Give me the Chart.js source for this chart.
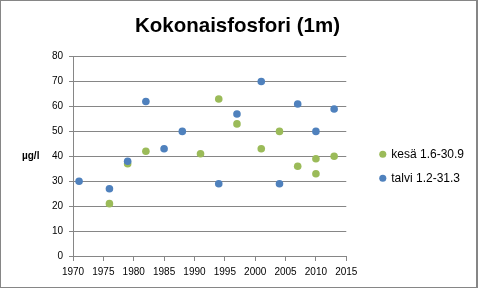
<!DOCTYPE html>
<html>
<head>
<meta charset="utf-8">
<script src="https://cdn.jsdelivr.net/npm/chart.js@4"></script>
<style>
    body { margin: 0; background: #fff; }
    #frame {
        position: absolute; left: 0; top: 0;
        width: 478px; height: 288px;
        box-sizing: border-box;
        border: 1px solid #868686;
        border-right-width: 2px;
        background: #fff;
    }
    #chart-box { position: relative; width: 475px; height: 286px; }
</style>
</head>
<body>
<div id="frame"><div id="chart-box"><canvas id="fosfori"></canvas></div></div>
<script>
// Data
const kesaLabel = 'kesä 1.6-30.9'
const kesaYears = [1976, 1979, 1982, 1991, 1994, 1997, 2001, 2004, 2007, 2010, 2010, 2013]
const kesaValues = [21, 37, 42, 41, 63, 53, 43, 50, 36, 39, 33, 40]

const talviLabel = 'talvi 1.2-31.3'
const talviYears = [1971, 1976, 1979, 1982, 1985, 1988, 1994, 1997, 2001, 2004, 2007, 2010, 2013]
const talviValues = [30, 27, 38, 62, 43, 50, 29, 57, 70, 29, 61, 50, 59]

const yearTicks = [1970, 1975, 1980, 1985, 1990, 1995, 2000, 2005, 2010, 2015]
const valueTicks = [0, 10, 20, 30, 40, 50, 60, 70, 80]

const titleText = 'Kokonaisfosfori (1m)'
const unitText = 'µg/l'

const toPoints = (xs, ys) => xs.map((x, i) => ({x: x, y: ys[i]}))

const gridColor = '#868686'
const tickFont = {family: "'Liberation Sans Narrow', 'Liberation Sans', Arial, sans-serif", size: 10}

// unit label written beside the 40 tick, not rotated
const unitLabel = {
    id: 'unitLabel',
    afterDraw(chart) {
        const ctx = chart.ctx
        const y = chart.scales.y.getPixelForValue(40)
        ctx.save()
        ctx.font = "bold 10px 'Liberation Sans', Arial, sans-serif"
        ctx.fillStyle = '#000'
        ctx.textAlign = 'left'
        ctx.textBaseline = 'middle'
        ctx.fillText(unitText, 21, y)
        ctx.restore()
    }
}

new Chart(document.getElementById('fosfori'), {
    type: 'scatter',
    data: {
        datasets: [{
            label: kesaLabel,
            data: toPoints(kesaYears, kesaValues),
            backgroundColor: '#9BBB59',
            borderColor: '#9BBB59',
            borderWidth: 0,
            pointRadius: 3.8,
            pointHoverRadius: 3.8,
            order: 2
        }, {
            label: talviLabel,
            data: toPoints(talviYears, talviValues),
            backgroundColor: '#4F81BD',
            borderColor: '#4F81BD',
            borderWidth: 0,
            pointRadius: 3.8,
            pointHoverRadius: 3.8,
            order: 1
        }]
    },
    options: {
        responsive: true,
        maintainAspectRatio: false,
        animation: false,
        layout: { padding: {left: 0, top: 0, right: 2, bottom: 4} },
        plugins: {
            title: {
                display: true,
                text: titleText,
                color: '#000',
                font: {family: "'Liberation Sans', Arial, sans-serif", size: 20.5, weight: 'bold'},
                padding: {top: 13, bottom: 18}
            },
            legend: {
                position: 'right',
                reverse: true,
                // empty title only pushes the two entries down to mid height
                title: { display: true, text: '', font: {size: 12}, padding: {top: 34, bottom: 0} },
                labels: {
                    usePointStyle: true,
                    pointStyle: 'circle',
                    boxWidth: 5,
                    boxHeight: 5,
                    padding: 12,
                    color: '#000',
                    font: {family: "'Liberation Sans', Arial, sans-serif", size: 12}
                }
            },
            tooltip: { enabled: false }
        },
        scales: {
            x: {
                type: 'linear',
                min: yearTicks[0],
                max: yearTicks[yearTicks.length - 1],
                afterBuildTicks: (scale) => { scale.ticks = yearTicks.map(v => ({value: v})) },
                ticks: {
                    color: '#000',
                    font: tickFont,
                    padding: 5,
                    maxRotation: 0,
                    autoSkip: false,
                    callback: (v) => String(v)
                },
                grid: { drawOnChartArea: false, drawTicks: true, tickLength: 5, color: gridColor },
                border: { color: gridColor }
            },
            y: {
                min: valueTicks[0],
                max: valueTicks[valueTicks.length - 1],
                afterBuildTicks: (scale) => { scale.ticks = valueTicks.map(v => ({value: v})) },
                afterFit: (scale) => { scale.width = 72 },
                ticks: { color: '#000', font: tickFont, padding: 6 },
                grid: { color: gridColor, tickLength: 4 },
                border: { color: gridColor }
            },
            gap: {
                position: 'right',
                display: false,
                afterFit: (scale) => { scale.width = 22 }
            }
        }
    },
    plugins: [unitLabel]
})
</script>
</body>
</html>
